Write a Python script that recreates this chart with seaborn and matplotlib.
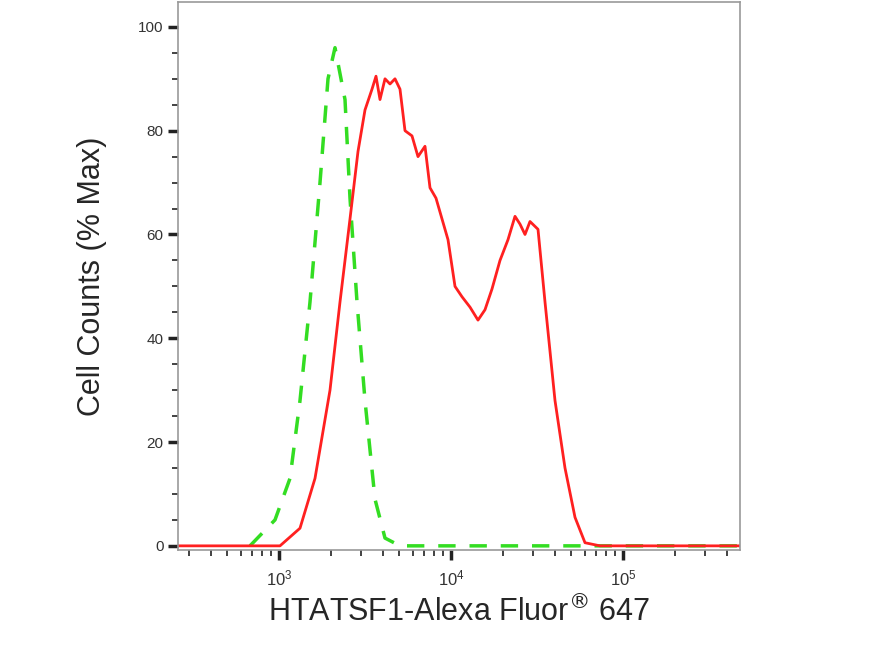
import numpy as np
import matplotlib
matplotlib.use("Agg")
import matplotlib.pyplot as plt
import seaborn as sns
import pandas as pd
from matplotlib.ticker import MultipleLocator, LogLocator, NullFormatter

# pixel-read data converted to (intensity, % max)
green_px = [250, 275, 290, 300, 310, 320, 328, 335, 340, 345, 350, 357, 365, 375, 385, 400, 740]
green_y = [0, 5, 13, 28, 47, 70, 90, 96, 91, 86, 67, 47, 28, 9, 1.5, 0, 0]
red_px = [178, 280, 300, 315, 330, 340, 350, 358, 365, 372, 376, 380, 385, 390, 395, 400, 405, 412, 418, 425,
          430, 436, 442, 448, 455, 462, 470, 478, 485, 492, 500, 508, 515, 520, 525, 530, 538, 545, 555, 565,
          575, 585, 600, 740]
red_y = [0, 0, 3.4, 13, 30, 47, 63, 76, 84, 88, 90.5, 86, 90, 89, 90, 88, 80, 79, 75, 77,
         69, 67, 63, 59, 50, 48, 46, 43.5, 45.5, 49.5, 55, 59, 63.5, 62, 60, 62.5, 61, 47, 28, 15,
         5.5, 0.6, 0, 0]

def to_x(px):
    return 10 ** (3 + (np.array(px) - 279) / 172)

sns.set_style("white")
plt.rcParams['font.family'] = ['Liberation Sans', 'DejaVu Sans']
fig = plt.figure(figsize=(8.84, 6.5), dpi=100)
ax = fig.add_axes([178/884, 100/650, (740-178)/884, 548/650])

gdf = pd.DataFrame({"x": to_x(green_px), "y": green_y})
rdf = pd.DataFrame({"x": to_x(red_px), "y": red_y})
sns.lineplot(data=gdf, x="x", y="y", ax=ax, color="#33dd22", lw=2.5, linestyle=(0, (5, 4)))
sns.lineplot(data=rdf, x="x", y="y", ax=ax, color="#ff2020", lw=2)

ax.set_xscale("log")
ax.set_xlim(10 ** (3 - 101/172), 10 ** (5 + 117/172))
ax.set_ylim(-0.8, 104.8)
ax.yaxis.set_major_locator(MultipleLocator(20))
ax.yaxis.set_minor_locator(MultipleLocator(5))
ax.xaxis.set_major_locator(LogLocator(base=10, numticks=10))
ax.xaxis.set_minor_locator(LogLocator(base=10, subs=np.arange(2, 10), numticks=20))
ax.xaxis.set_minor_formatter(NullFormatter())
for s in ax.spines.values():
    s.set_color("#999999")
    s.set_linewidth(1.2)
ax.tick_params(axis="both", which="major", direction="out", length=7, width=2.5, color="#222222",
               labelsize=11, labelcolor="#333333", bottom=True, left=True)
ax.tick_params(axis="both", which="minor", direction="out", length=4, width=1.2, color="#222222",
               bottom=True, left=True)
ax.tick_params(axis="x", labelsize=12, pad=6)
for lab in ax.get_xticklabels():
    lab.set_x(lab.get_position()[0])
ax.set_xlabel("HTATSF1-Alexa Fluor$^{®}$ 647", fontsize=22, labelpad=6)
ax.set_ylabel("Cell Counts (% Max)", fontsize=22, labelpad=22)
fig.savefig("out.png", dpi=100)
